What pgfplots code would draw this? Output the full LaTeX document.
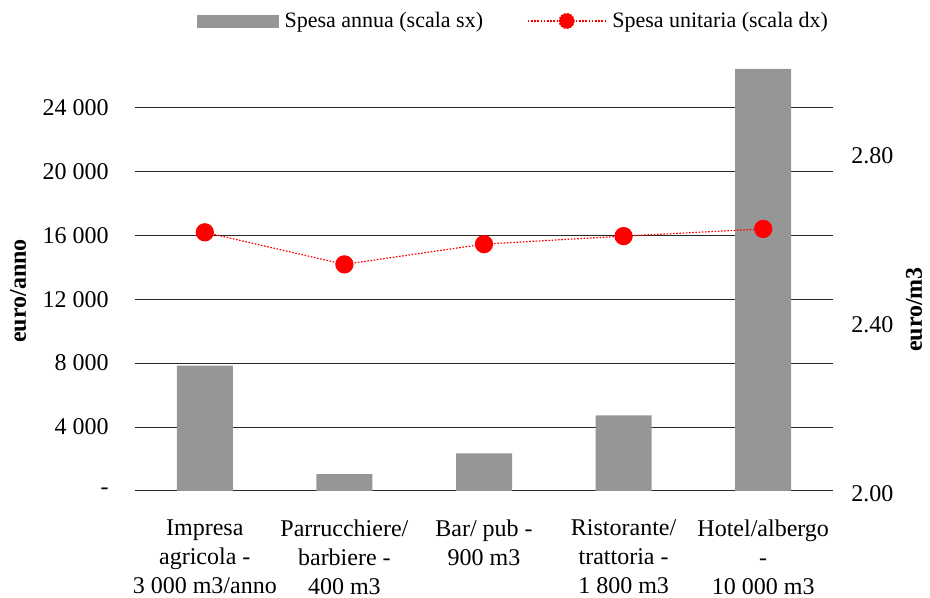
\documentclass[border=0pt]{standalone}
\usepackage{fontspec}
\setmainfont{Liberation Serif}
\usepackage{pgfplots}
\pgfplotsset{compat=1.18}
\definecolor{barcol}{RGB}{150,150,150}
\definecolor{gridcol}{RGB}{40,40,40}
\begin{document}
\begin{tikzpicture}
\path[use as bounding box] (-101.25pt,-80.25pt) rectangle (596.25pt,368.25pt);
\begin{axis}[
  at={(0,0)}, anchor=south west,
  scale only axis, width=523.5pt, height=316.5pt,
  xmin=-0.5, xmax=4.5, ymin=0, ymax=26400,
  axis x line*=bottom, axis y line*=left,
  x axis line style={gridcol, line width=0.75pt},
  y axis line style={draw=none},
  major tick length=0pt,
  scaled y ticks=false,
  ytick={0,4000,8000,12000,16000,20000,24000},
  yticklabels={{-\hspace{18.5pt}},4 000,8 000,12 000,16 000,20 000,24 000},
  yticklabel style={anchor=east, inner sep=0pt, xshift=-19.5pt, font=\fontsize{18}{21}\selectfont},
  xtick={0,1,2,3,4},
  xticklabels={{Impresa\\agricola -\\3 000 m3/anno},{Parrucchiere/\\barbiere -\\400 m3},{Bar/ pub -\\900 m3},{Ristorante/\\trattoria -\\1 800 m3},{Hotel/albergo\\-\\10 000 m3}},
  xticklabel style={align=center, anchor=north, inner sep=0pt, yshift=-21.5pt, font=\fontsize{18}{21.75}\selectfont},
  ymajorgrids, grid style={gridcol, line width=0.75pt},
  ylabel={euro/anno},
  ylabel style={at={(axis description cs:-0.1676,0.474)}, anchor=center, font=\fontsize{18}{21}\selectfont\bfseries},
]
\addplot[ybar, bar width=42pt, fill=barcol, draw=none] coordinates {(0,7850) (1,1050) (2,2350) (3,4730) (4,26400)};
\end{axis}
\begin{axis}[
  at={(0,0)}, anchor=south west,
  scale only axis, width=523.5pt, height=316.5pt,
  xmin=-0.5, xmax=4.5, ymin=2, ymax=3,
  axis x line=none, axis y line*=right,
  y axis line style={draw=none},
  major tick length=0pt,
  ytick={2,2.4,2.8},
  yticklabels={2.00,2.40,2.80},
  yticklabel style={anchor=west, inner sep=0pt, xshift=13.5pt, yshift=-2pt, font=\fontsize{18}{21}\selectfont},
  ylabel={euro/m3},
  ylabel style={at={(axis description cs:1.116,0.43)}, anchor=center, font=\fontsize{18}{21}\selectfont\bfseries},
  legend style={at={(axis description cs:0.5408,1.1137)}, anchor=center, draw=none, fill=none,
    font=\fontsize{16.5}{19}\selectfont, inner sep=0pt, nodes={inner sep=0pt},
    column sep=4.5pt, /tikz/column 2/.style={column sep=33pt}},
  legend columns=2,
]
\addlegendimage{legend image code/.code={\fill[barcol] (0pt,-4.5pt) rectangle (60.75pt,4.5pt);}}
\addlegendentry{Spesa annua (scala sx)}
\addplot[red, line width=0.9pt, dash pattern=on 1.2pt off 1.2pt, mark=*, mark size=6.4pt, mark options={solid, fill=red, draw=red},
  legend image code/.code={\draw[red, line width=0.9pt, dash pattern=on 1.2pt off 1.2pt] (0pt,0pt) -- (58.5pt,0pt); \fill[red] (29.25pt,0pt) circle (5.6pt);}]
  coordinates {(0,2.613) (1,2.537) (2,2.585) (3,2.604) (4,2.621)};
\addlegendentry{Spesa unitaria (scala dx)}
\end{axis}
\end{tikzpicture}
\end{document}
